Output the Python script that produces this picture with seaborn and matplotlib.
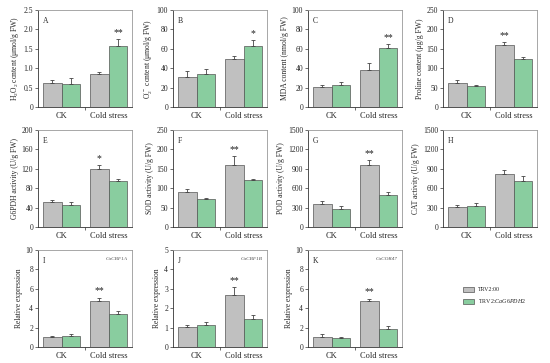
import numpy as np
import pandas as pd
import matplotlib
matplotlib.use("Agg")
import matplotlib.pyplot as plt
import seaborn as sns

# ---------------- data ----------------
conditions = ["CK", "Cold stress"]
groups = ["TRV2:00", "TRV2:CaG6PDH2"]
legend_labels = ["TRV2:00", "TRV2:$\\it{CaG6PDH2}$"]

panel_letters = ["A", "B", "C", "D", "E", "F", "G", "H", "I", "J", "K"]
ylabels = [
    "H$_2$O$_2$ content (μmol/g FW)",
    "O$_2^{\\cdot -}$ content (μmol/g FW)",
    "MDA content (nmol/g FW)",
    "Proline content (μg/g FW)",
    "G6PDH activity (U/g FW)",
    "SOD activity (U/g FW)",
    "POD activity (U/g FW)",
    "CAT activity (U/g FW)",
    "Relative expression",
    "Relative expression",
    "Relative expression",
]
gene_names = [None] * 8 + ["CaCBF1A", "CaCBF1B", "CaCOR47"]

# values: [CK TRV2:00, CK TRV2:CaG6PDH2, Cold TRV2:00, Cold TRV2:CaG6PDH2]
h2o2 = [0.62, 0.60, 0.85, 1.58]
h2o2_err = [0.07, 0.14, 0.06, 0.16]
o2 = [31, 34, 49, 63]
o2_err = [6, 5, 4, 6]
mda = [21, 23, 38, 61]
mda_err = [2, 3, 7, 4]
proline = [63, 53, 160, 124]
proline_err = [6, 3, 8, 4]
g6pdh = [51, 46, 120, 95]
g6pdh_err = [4, 5, 7, 5]
sod = [89, 71, 160, 120]
sod_err = [8, 4, 23, 3]
pod = [355, 280, 960, 500]
pod_err = [45, 40, 80, 40]
cat = [310, 325, 815, 715]
cat_err = [25, 40, 60, 80]
cbf1a = [1.05, 1.10, 4.70, 3.40]
cbf1a_err = [0.10, 0.20, 0.40, 0.30]
cbf1b = [1.02, 1.13, 2.67, 1.42]
cbf1b_err = [0.10, 0.15, 0.40, 0.22]
cor47 = [1.05, 0.95, 4.70, 1.90]
cor47_err = [0.25, 0.10, 0.30, 0.25]

values = [h2o2, o2, mda, proline, g6pdh, sod, pod, cat, cbf1a, cbf1b, cor47]
errors = [h2o2_err, o2_err, mda_err, proline_err, g6pdh_err, sod_err, pod_err,
          cat_err, cbf1a_err, cbf1b_err, cor47_err]
# significance marks: (bar index, text)
stars = [(3, "**"), (3, "*"), (3, "**"), (2, "**"), (2, "*"), (2, "**"),
         (2, "**"), None, (2, "**"), (2, "**"), (2, "**")]
ymax = [2.5, 100, 100, 250, 200, 250, 1500, 1500, 10, 5, 10]
ystep = [0.5, 20, 20, 50, 40, 50, 300, 300, 2, 1, 2]

# ---------------- style ----------------
sns.set_theme(style="ticks")
plt.rcParams["font.family"] = ["Liberation Serif", "DejaVu Serif"]
plt.rcParams["mathtext.fontset"] = "custom"
plt.rcParams["mathtext.rm"] = "Liberation Serif"
plt.rcParams["mathtext.it"] = "Liberation Serif:italic"
plt.rcParams["mathtext.bf"] = "Liberation Serif:bold"

palette = {"TRV2:00": "#c0c0c0", "TRV2:CaG6PDH2": "#7dd99b"}
fs = 5.5

W, H = 550, 363
fig = plt.figure(figsize=(W / 100, H / 100), dpi=100)

lefts = [38, 173, 308, 443]
tops = [10, 130, 250]
aw, ah = 94, 97

bar_order = [(c, g) for c in conditions for g in groups]

handles = None
for i in range(11):
    r, c = divmod(i, 4)
    ax = fig.add_axes([lefts[c] / W, (H - tops[r] - ah) / H, aw / W, ah / H])
    df = pd.DataFrame({
        "condition": [bo[0] for bo in bar_order],
        "group": [bo[1] for bo in bar_order],
        "value": values[i],
    })
    sns.barplot(data=df, x="condition", y="value", hue="group", order=conditions,
                hue_order=groups, palette=palette, ax=ax, errorbar=None,
                edgecolor="#555555", linewidth=0.5, width=0.8, legend=True)
    if handles is None:
        handles, _ = ax.get_legend_handles_labels()
    ax.get_legend().remove()
    patches = [p for p in ax.patches if p.get_height() > 0]
    pmap = {}
    for k, p in enumerate(patches[:4]):
        g_idx, c_idx = divmod(k, 2)
        pmap[(c_idx, g_idx)] = p
    for k, (cond, grp) in enumerate(bar_order):
        c_idx, g_idx = conditions.index(cond), groups.index(grp)
        p = pmap[(c_idx, g_idx)]
        xc = p.get_x() + p.get_width() / 2
        ax.errorbar([xc], [values[i][k]], yerr=[[0], [errors[i][k]]], fmt="none",
                    ecolor="#444444", elinewidth=0.6, capsize=1.3, capthick=0.6)
    if stars[i] is not None:
        k, txt = stars[i]
        cond, grp = bar_order[k]
        p = pmap[(conditions.index(cond), groups.index(grp))]
        xc = p.get_x() + p.get_width() / 2
        ytop = values[i][k] + errors[i][k]
        ax.text(xc, ytop + ymax[i] * 0.02, txt, ha="center", va="bottom",
                fontsize=7, color="#222222")
    ax.set_xlim(-0.5, 1.5)
    ax.set_ylim(0, ymax[i])
    ticks = np.arange(0, ymax[i] + ystep[i] / 2, ystep[i])
    ax.set_yticks(ticks)
    if ystep[i] < 1:
        ax.set_yticklabels(["0"] + [f"{t:.1f}" for t in ticks[1:]])
    else:
        ax.set_yticklabels([f"{int(round(t))}" for t in ticks])
    ax.set_xlabel("")
    ax.set_ylabel(ylabels[i], fontsize=fs, labelpad=2)
    ax.tick_params(axis="y", labelsize=fs, length=2, width=0.5, pad=1.5,
                   color="#333333")
    ax.tick_params(axis="x", labelsize=fs + 0.5, length=0, pad=3.5)
    ax.set_xticks([0.5], minor=True)
    ax.tick_params(axis="x", which="minor", length=2, width=0.5, color="#333333")
    for s in ["left", "bottom"]:
        ax.spines[s].set_color("#333333")
        ax.spines[s].set_linewidth(0.6)
    for s in ["top", "right"]:
        ax.spines[s].set_visible(True)
        ax.spines[s].set_color("#999999")
        ax.spines[s].set_linewidth(0.6)
    ax.text(0.05, 0.93, panel_letters[i], transform=ax.transAxes, fontsize=fs,
            ha="left", va="top")
    if gene_names[i]:
        ax.text(0.95, 0.93, gene_names[i], transform=ax.transAxes,
                fontsize=3.8, style="italic", ha="right", va="top",
                color="#555555")

fig.legend(handles, legend_labels, loc="center left",
           bbox_to_anchor=(458 / W, 1 - 296 / H), frameon=False,
           fontsize=4.3, handlelength=1.7, handleheight=0.9,
           labelspacing=0.9, handletextpad=0.7)

fig.savefig("out.png", dpi=100)
